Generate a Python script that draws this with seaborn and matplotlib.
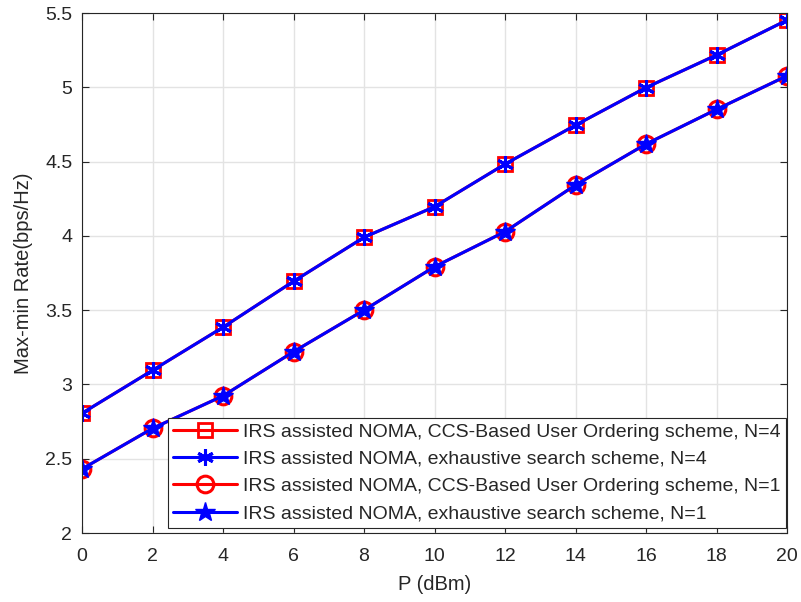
import matplotlib
matplotlib.use("Agg")
import matplotlib.pyplot as plt
import seaborn as sns
import numpy as np
import pandas as pd

# Data
P_dBm = [0, 2, 4, 6, 8, 10, 12, 14, 16, 18, 20]
ccs_N4 = [2.806, 3.095, 3.385, 3.694, 3.99, 4.196, 4.483, 4.745, 4.998, 5.217, 5.452]
exh_N4 = [2.806, 3.095, 3.385, 3.694, 3.99, 4.196, 4.483, 4.745, 4.998, 5.217, 5.452]
ccs_N1 = [2.431, 2.704, 2.923, 3.22, 3.50, 3.792, 4.028, 4.342, 4.618, 4.851, 5.077]
exh_N1 = [2.431, 2.704, 2.923, 3.22, 3.50, 3.792, 4.028, 4.342, 4.618, 4.851, 5.077]
labels = [
    "IRS assisted NOMA, CCS-Based User Ordering scheme, N=4",
    "IRS assisted NOMA, exhaustive search scheme, N=4",
    "IRS assisted NOMA, CCS-Based User Ordering scheme, N=1",
    "IRS assisted NOMA, exhaustive search scheme, N=1",
]
x_ticks = [0, 2, 4, 6, 8, 10, 12, 14, 16, 18, 20]
y_ticks = [2, 2.5, 3, 3.5, 4, 4.5, 5, 5.5]

sns.set_theme(style="whitegrid")
plt.rcParams['font.family'] = ['Liberation Sans', 'DejaVu Sans']

fig = plt.figure(figsize=(8.01, 6.02), dpi=100)
ax = fig.add_axes([82/801, 69/602, 705/801, 520/602])

series = [ccs_N4, exh_N4, ccs_N1, exh_N1]
styles = [
    dict(color='#ff0000', marker='s', markersize=10, markerfacecolor='none',
         markeredgecolor='#ff0000', markeredgewidth=2),
    dict(color='#0000ff', marker=(6, 2, 0), markersize=12, markeredgecolor='#0000ff',
         markeredgewidth=2.2),
    dict(color='#ff0000', marker='o', markersize=12, markerfacecolor='none',
         markeredgecolor='#ff0000', markeredgewidth=2.2),
    dict(color='#0000ff', marker='*', markersize=15, markerfacecolor='#0000ff',
         markeredgecolor='#0000ff', markeredgewidth=1),
]
for vals, lab, st in zip(series, labels, styles):
    df = pd.DataFrame({"P": P_dBm, "R": vals})
    sns.lineplot(data=df, x="P", y="R", ax=ax, label=lab, linewidth=2.2, **st)

ax.set_xlim(0, 20)
ax.set_ylim(2, 5.5)
ax.set_xticks(x_ticks)
ax.set_xticklabels([str(v) for v in x_ticks])
ax.set_yticks(y_ticks)
ax.set_yticklabels([f"{v:g}" for v in y_ticks])
ax.set_xlabel("P (dBm)", fontsize=14.5, color='#262626', labelpad=7)
ax.set_ylabel("Max-min Rate(bps/Hz)", fontsize=14.5, color='#262626', labelpad=9)
ax.grid(True, color='#e3e3e3', linewidth=1)
ax.set_facecolor('white')
for s in ax.spines.values():
    s.set_visible(True)
    s.set_color('#262626')
    s.set_linewidth(0.8)
ax.tick_params(axis='both', which='both', direction='in', length=5, width=0.8,
               colors='#262626', labelsize=14, top=True, right=True,
               bottom=True, left=True)
ax.tick_params(axis='x', pad=11)
ax.tick_params(axis='y', pad=7)

leg = ax.legend(loc='lower right', bbox_to_anchor=(0.999, 5/520), fontsize=14,
                frameon=True, fancybox=False, borderaxespad=0.0,
                handlelength=3.3, handletextpad=0.3,
                labelspacing=0.5, borderpad=0.28)
leg.get_frame().set_edgecolor('#262626')
leg.get_frame().set_linewidth(0.8)
leg.get_frame().set_alpha(1)

fig.savefig("out.png", dpi=100)
